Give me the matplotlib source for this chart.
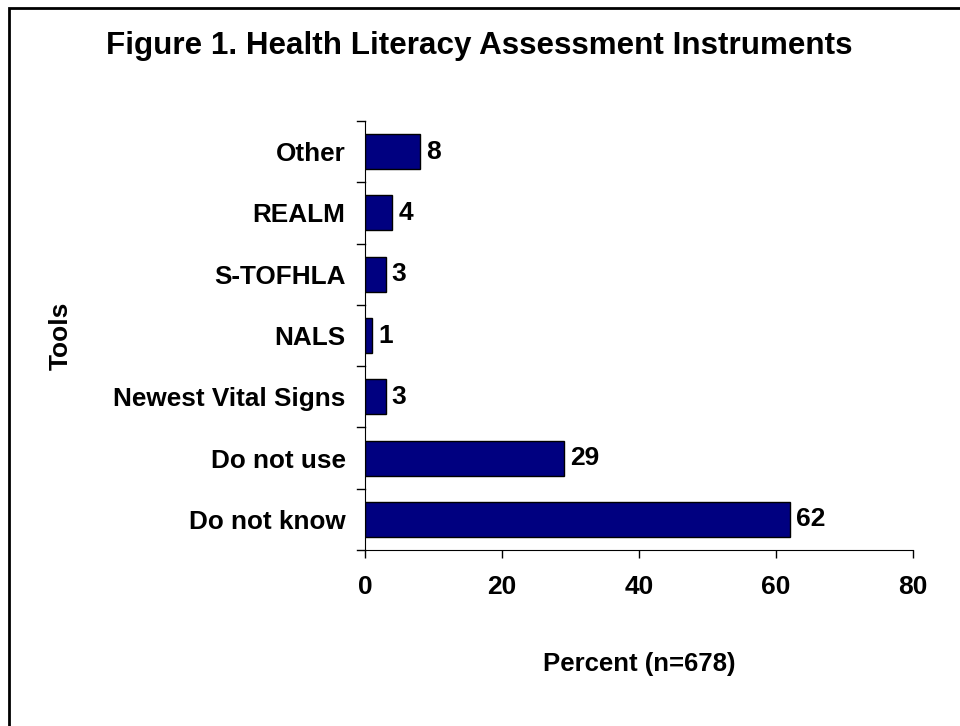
import matplotlib.pyplot as plt
from matplotlib.patches import Rectangle

# Data
tools = ["Do not know", "Do not use", "Newest Vital Signs", "NALS",
         "S-TOFHLA", "REALM", "Other"]
percent = [62, 29, 3, 1, 3, 4, 8]

plt.rcParams['font.family'] = ['Liberation Sans', 'DejaVu Sans']
plt.rcParams['font.weight'] = 'bold'

fig = plt.figure(figsize=(9.6, 7.26), dpi=100)
ax = fig.add_axes([0.3802, 0.2424, 0.5708, 0.5909])

y = range(len(tools))
ax.barh(y, percent, height=0.57, color='#000080', edgecolor='black', linewidth=1)

for i, v in enumerate(percent):
    ax.text(v + 0.9, i, str(v), va='center', ha='left', fontsize=19, fontweight='bold')

ax.set_xlim(0, 80)
ax.set_ylim(-0.5, len(tools) - 0.5)
ax.set_xticks([0, 20, 40, 60, 80])
ax.set_xticklabels(['0', '20', '40', '60', '80'], fontsize=19, fontweight='bold')
ax.set_yticks(y)
ax.set_yticklabels(tools, fontsize=18.8, fontweight='bold')
ax.tick_params(axis='y', length=0, pad=14)
ax.tick_params(axis='x', length=6, width=1, pad=12)

# category separator ticks on y axis
for b in [i - 0.5 for i in range(len(tools) + 1)]:
    ax.plot([-0.015, 0], [b, b], transform=ax.get_yaxis_transform(),
            color='black', lw=1, clip_on=False)

for s in ['top', 'right']:
    ax.spines[s].set_visible(False)

ax.set_xlabel('Percent (n=678)', fontsize=18.5, fontweight='bold', labelpad=38)
fig.text(61 / 960, 1 - 336 / 726, 'Tools', rotation=90, ha='center', va='center',
         fontsize=19, fontweight='bold')
fig.text(0.499, 0.936, 'Figure 1. Health Literacy Assessment Instruments',
         ha='center', va='center', fontsize=22.6, fontweight='bold')

# frame around figure (right/bottom beyond the image)
fig.patches.append(Rectangle((9 / 960, -0.1), 1.2, 1 - 8 / 726 + 0.1,
                             transform=fig.transFigure, fill=False,
                             edgecolor='black', lw=2))

fig.savefig('out.png', dpi=100)
